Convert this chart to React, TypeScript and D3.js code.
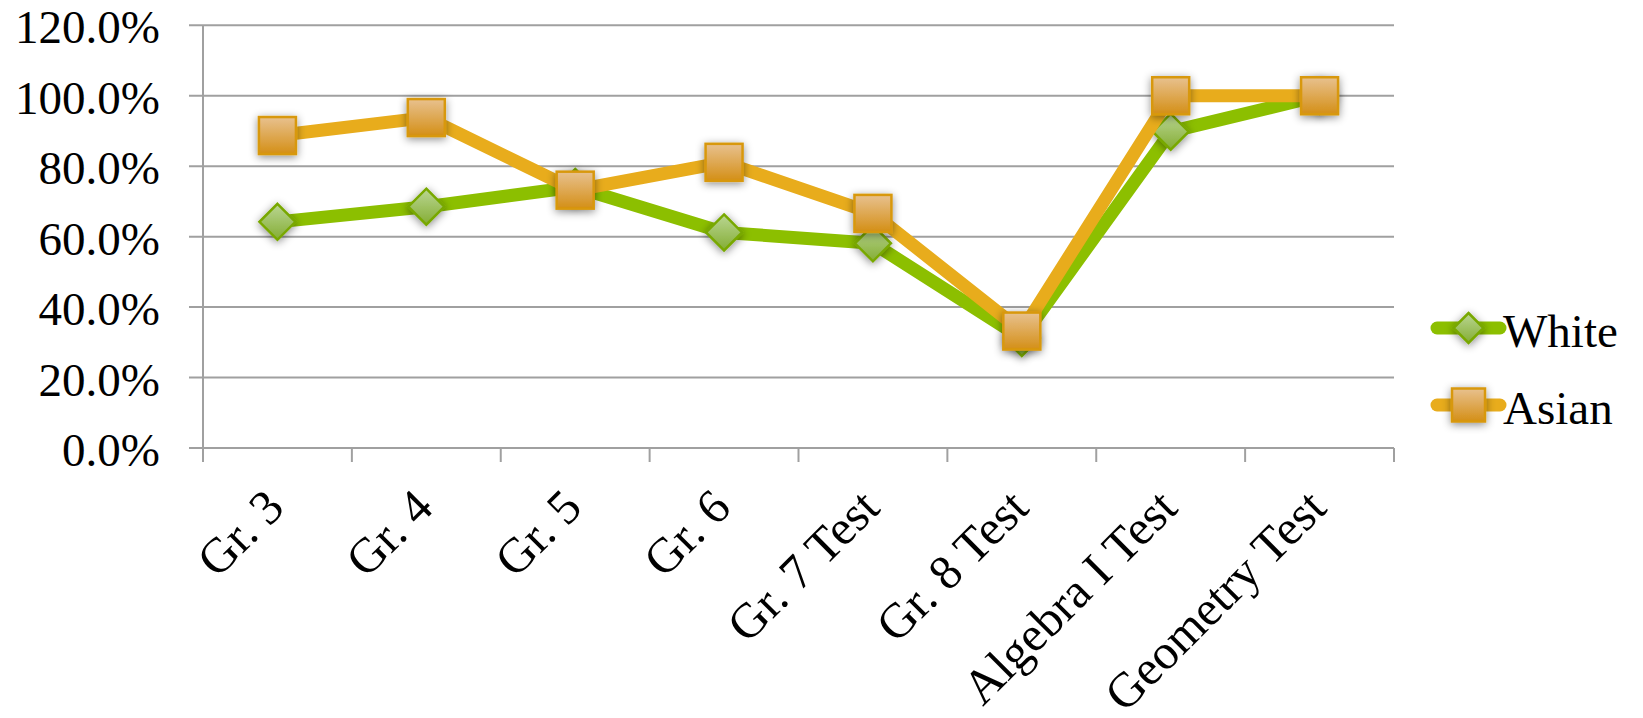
import React from "react";
import * as d3 from "d3";

const categories = ["Gr. 3", "Gr. 4", "Gr. 5", "Gr. 6", "Gr. 7 Test", "Gr. 8 Test", "Algebra I Test", "Geometry Test"];
const whiteValues = [0.642, 0.685, 0.741, 0.612, 0.581, 0.312, 0.898, 1.0];
const asianValues = [0.887, 0.938, 0.732, 0.811, 0.666, 0.332, 1.0, 1.0];
const yTicks = [0, 0.2, 0.4, 0.6, 0.8, 1.0, 1.2];
const seriesNames = ["White", "Asian"];

const W = 1643;
const H = 718;
const FONT = "'Liberation Serif', 'Times New Roman', serif";
const GRID = "#a0a0a0";
const GREEN = "#8cbf00";
const ORANGE = "#e8ac1c";

export default function App() {
  const x = d3.scaleBand<string>().domain(categories).range([203, 1394]).padding(0);
  const y = d3.scaleLinear().domain([0, 1.2]).range([448, 25.3]);
  const cx = (c: string) => (x(c) as number) + x.bandwidth() / 2;

  const line = d3
    .line<number>()
    .x((_, i) => cx(categories[i]))
    .y((v) => y(v));

  const fmt = d3.format(".1%");
  const tickEdges = categories.map((c) => x(c) as number).concat([x.range()[1]]);

  const diamond = (px: number, py: number, r: number, key: string | number) => (
    <path
      key={key}
      d={`M${px},${py - r}L${px + r},${py}L${px},${py + r}L${px - r},${py}Z`}
      fill="url(#gGreen)"
      stroke="#78a800"
      strokeWidth={2.5}
      strokeLinejoin="miter"
      filter="url(#shadow)"
    />
  );
  const square = (px: number, py: number, s: number, key: string | number) => (
    <rect
      key={key}
      x={px - s / 2}
      y={py - s / 2}
      width={s}
      height={s}
      fill="url(#gOrange)"
      stroke="#d8980c"
      strokeWidth={2.5}
      filter="url(#shadow)"
    />
  );

  const legendX0 = 1437;
  const legendX1 = 1500;
  const legendYs = [328, 405];

  return (
    <svg
      width={W}
      height={H}
      style={{ position: "absolute", left: 0, top: 0, background: "#fff" }}
      fontFamily={FONT}
    >
      <defs>
        <linearGradient id="gGreen" x1="0" y1="0" x2="0" y2="1">
          <stop offset="0" stopColor="#bad693" />
          <stop offset="1" stopColor="#84ad34" />
        </linearGradient>
        <linearGradient id="gOrange" x1="0" y1="0" x2="0" y2="1">
          <stop offset="0" stopColor="#e8c18f" />
          <stop offset="1" stopColor="#d48f16" />
        </linearGradient>
        <filter id="shadow" x="-50%" y="-50%" width="200%" height="200%">
          <feDropShadow dx="0" dy="2" stdDeviation="4" floodColor="#000" floodOpacity="0.45" />
        </filter>
      </defs>

      {/* gridlines + y ticks */}
      {yTicks.map((t) => (
        <line key={"g" + t} x1={189} x2={x.range()[1]} y1={y(t)} y2={y(t)} stroke={GRID} strokeWidth={2} />
      ))}
      {yTicks.map((t) => (
        <text key={"yl" + t} x={160} y={y(t) + 18} textAnchor="end" fontSize={47} fill="#000">
          {fmt(t)}
        </text>
      ))}
      {/* y axis */}
      <line x1={x.range()[0]} x2={x.range()[0]} y1={y(1.2)} y2={y(0) + 14} stroke={GRID} strokeWidth={2} />
      {/* x ticks */}
      {tickEdges.map((e, i) => (
        <line key={"xt" + i} x1={e} x2={e} y1={y(0)} y2={y(0) + 14} stroke={GRID} strokeWidth={2} />
      ))}
      {/* x labels */}
      {categories.map((c) => {
        const ax = cx(c) + 9;
        const ay = y(0) + 62;
        return (
          <text
            key={"xl" + c}
            x={ax}
            y={ay}
            textAnchor="end"
            fontSize={49}
            fill="#000"
            transform={`rotate(-45, ${ax}, ${ay})`}
          >
            {c}
          </text>
        );
      })}

      {/* White series */}
      <path d={line(whiteValues) || ""} fill="none" stroke={GREEN} strokeWidth={13} strokeLinejoin="round" />
      {whiteValues.map((v, i) => diamond(cx(categories[i]), y(v), 18, "wd" + i))}

      {/* Asian series */}
      <path d={line(asianValues) || ""} fill="none" stroke={ORANGE} strokeWidth={13} strokeLinejoin="round" />
      {asianValues.map((v, i) => square(cx(categories[i]), y(v), 37, "as" + i))}

      {/* legend */}
      {seriesNames.map((name, i) => {
        const ly = legendYs[i];
        const mx = (legendX0 + legendX1) / 2;
        return (
          <g key={"lg" + name}>
            <line
              x1={legendX0}
              x2={legendX1}
              y1={ly}
              y2={ly}
              stroke={i === 0 ? GREEN : ORANGE}
              strokeWidth={13}
              strokeLinecap="round"
            />
            {i === 0 ? diamond(mx, ly, 15, "ld") : square(mx, ly, 33, "ls")}
            <text x={1503} y={ly + 19} fontSize={47} fill="#000">
              {name}
            </text>
          </g>
        );
      })}
    </svg>
  );
}
